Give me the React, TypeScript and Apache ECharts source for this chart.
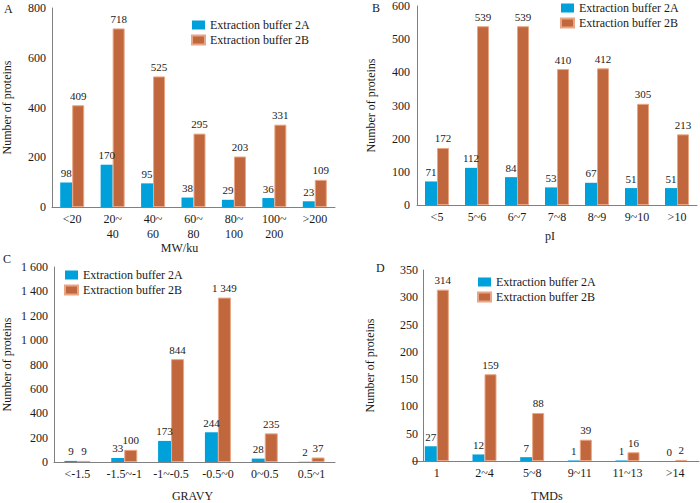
import React, { useEffect, useRef } from "react";
import * as echarts from "echarts";

const legendNames = ["Extraction buffer 2A", "Extraction buffer 2B"];

const catsA = ["<20", "20~\n40", "40~\n60", "60~\n80", "80~\n100", "100~\n200", ">200"];
const a2A = [98, 170, 95, 38, 29, 36, 23];
const a2B = [409, 718, 525, 295, 203, 331, 109];

const catsB = ["<5", "5~6", "6~7", "7~8", "8~9", "9~10", ">10"];
const b2A = [71, 112, 84, 53, 67, 51, 51];
const b2B = [172, 539, 539, 410, 412, 305, 213];

const catsC = ["<-1.5", "-1.5~-1", "-1~-0.5", "-0.5~0", "0~0.5", "0.5~1"];
const c2A = [9, 33, 173, 244, 28, 2];
const c2B = [9, 100, 844, 1349, 235, 37];

const catsD = ["1", "2~4", "5~8", "9~11", "11~13", ">14"];
const d2A = [27, 12, 7, 1, 1, 0];
const d2B = [314, 159, 88, 39, 16, 2];

const FONT = "'Liberation Serif', 'Times New Roman', serif";
const BLUE = "#00A0DA";
const ORANGE = "#C0673D";
const AXIS = "#808080";

const fmt = (v: number) => {
  const s = String(v);
  return v >= 1000 ? s.slice(0, s.length - 3) + " " + s.slice(-3) : s;
};

export default function App() {
  const ref = useRef<HTMLDivElement>(null);
  useEffect(() => {
    if (!ref.current) return;
    const chart = echarts.init(ref.current, undefined, { renderer: "svg" });

    const panels = [
      { cats: catsA, s1: a2A, s2: a2B, max: 800, interval: 200, name: "MW/ku", nameGap: 33, namePad: 28, yGap: 39, yMargin: 6, bw: 12, offset: 0 },
      { cats: catsB, s1: b2A, s2: b2B, max: 600, interval: 100, name: "pI", nameGap: 25, namePad: 14, yGap: 40, yMargin: 7, bw: 12, offset: 0 },
      { cats: catsC, s1: c2A, s2: c2B, max: 1600, interval: 200, name: "GRAVY", nameGap: 28, namePad: 4, yGap: 41, yMargin: 6, bw: 13, offset: 0 },
      { cats: catsD, s1: d2A, s2: d2B, max: 350, interval: 50, name: "TMDs", nameGap: 29, namePad: 18, yGap: 47, yMargin: 5, bw: 12, offset: -10 },
    ];

    const grids = [
      { left: 49, top: 8, width: 286, height: 199 },
      { left: 417, top: 6, width: 280, height: 199 },
      { left: 49, top: 267, width: 286, height: 202 },
      { left: 413, top: 270, width: 286, height: 201 },
    ];

    const legends = [
      { left: 186, top: 14 },
      { left: 555, top: -3 },
      { left: 59, top: 264 },
      { left: 472, top: 271 },
    ];

    const letters = [
      { t: "A", x: 4, y: 3 },
      { t: "B", x: 372, y: 2 },
      { t: "C", x: 3, y: 253 },
      { t: "D", x: 376, y: 262 },
    ];

    const textStyle = { fontFamily: FONT, fontSize: 12, color: "#1a1a1a" };

    const labelCfg = {
      show: true,
      position: "top" as const,
      distance: 4,
      fontFamily: FONT,
      fontSize: 11,
      color: "#1a1a1a",
      formatter: (p: any) => fmt(p.value),
    };

    const option: any = {
      animation: false,
      backgroundColor: "#ffffff",
      textStyle: { fontFamily: FONT },
      grid: grids.map((g) => ({ ...g, containLabel: false })),
      legend: legends.map((l) => ({
        ...l,
        orient: "vertical",
        itemWidth: 13,
        itemHeight: 9,
        itemGap: 3,
        icon: "rect",
        textStyle: { ...textStyle, fontSize: 12 },
        data: legendNames,
        selectedMode: false,
      })),
      xAxis: panels.map((p, i) => ({
        type: "category",
        gridIndex: i,
        data: p.cats,
        axisLine: { lineStyle: { color: AXIS, width: 1 } },
        axisTick: { show: false },
        axisLabel: { ...textStyle, margin: 4, lineHeight: 15, interval: 0 },
        name: p.name,
        nameLocation: "middle",
        nameGap: p.nameGap,
        nameTextStyle: { ...textStyle, padding: [0, p.namePad, 0, 0] },
      })),
      yAxis: panels.map((p, i) => ({
        type: "value",
        gridIndex: i,
        min: 0,
        max: p.max,
        interval: p.interval,
        offset: p.offset,
        axisLine: { show: true, lineStyle: { color: AXIS, width: 1 } },
        axisTick: { show: false },
        splitLine: { show: false },
        axisLabel: { ...textStyle, margin: p.yMargin, formatter: (v: number) => fmt(v) },
        name: "Number of proteins",
        nameLocation: "middle",
        nameGap: p.yGap,
        nameTextStyle: { ...textStyle },
      })),
      graphic: letters.map((l) => ({
        type: "text",
        left: l.x,
        top: l.y,
        style: { text: l.t, font: `12px ${FONT}`, fill: "#1a1a1a" },
      })),
      series: panels.flatMap((p, i) => [
        {
          type: "bar",
          name: legendNames[0],
          xAxisIndex: i,
          yAxisIndex: i,
          data: p.s1,
          barWidth: p.bw,
          barGap: "0%",
          itemStyle: { color: BLUE },
          label: labelCfg,
        },
        {
          type: "bar",
          name: legendNames[1],
          xAxisIndex: i,
          yAxisIndex: i,
          data: p.s2,
          barWidth: p.bw,
          barGap: "0%",
          itemStyle: { color: ORANGE, borderColor: "#E9A684", borderWidth: 1 },
          label: labelCfg,
        },
      ]),
    };

    chart.setOption(option);
    return () => chart.dispose();
  }, []);

  return (
    <div
      ref={ref}
      style={{ position: "fixed", left: 0, top: 0, width: 700, height: 503, background: "#fff" }}
    />
  );
}
